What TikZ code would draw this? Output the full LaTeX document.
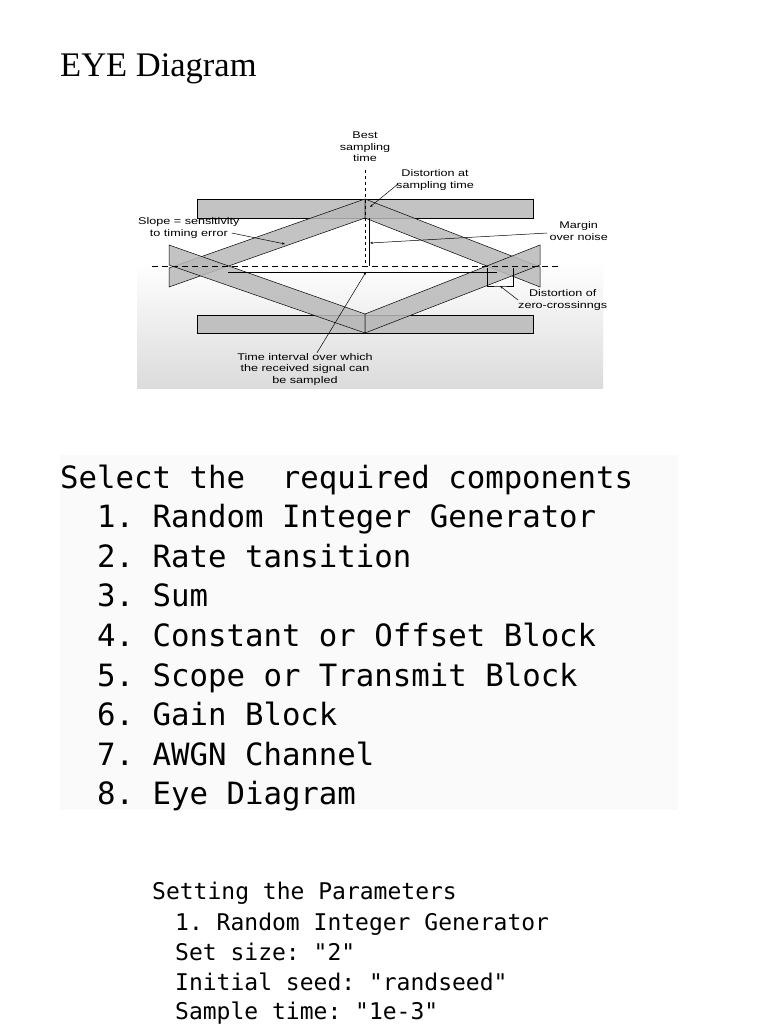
\documentclass[tikz,border=0pt]{standalone}
\usepackage{fontspec}
\usetikzlibrary{arrows.meta}
\setmainfont{Liberation Serif}
\newfontfamily\monof{DejaVu Sans Mono}
\newfontfamily\sansf[FakeStretch=1.3]{Liberation Sans}
\begin{document}
\frenchspacing
\begin{tikzpicture}[x=1pt,y=-1pt,
  band/.style={fill=gray!55,draw=black,line width=0.5pt,fill opacity=0.85},
  lbl/.style={font=\sansf\fontsize{9.7}{11.5}\selectfont,align=center,inner sep=0pt},
  ln/.style={anchor=base west,inner sep=0pt,font=\monof\fontsize{30.7}{31}\selectfont},
  sm/.style={anchor=base west,inner sep=0pt,font=\monof\fontsize{23}{23}\selectfont},
  pt/.style={line width=0.5pt,-{Stealth[length=3pt]}}]
\useasboundingbox (0,0) rectangle (768,1024);
\fill[white] (0,0) rectangle (768,1024);
\node[anchor=base west,inner sep=0pt,font=\fontsize{34.5}{35}\selectfont] (title) at (60,77) {EYE Diagram};
% eye background
\shade[top color=white,bottom color=gray!28] (137,262) rectangle (603,388);
% bands
\draw[band] (197,199) rectangle (533,218);
\draw[band] (197,315) rectangle (533,333);
\draw[band] (169,268) -- (365,199) -- (365,218) -- (169,287) -- cycle;
\draw[band] (365,199) -- (540,267) -- (540,287) -- (365,218) -- cycle;
\draw[band] (169,245) -- (365,314) -- (365,333) -- (169,265) -- cycle;
\draw[band] (365,314) -- (540,245) -- (540,265) -- (365,333) -- cycle;
% dashed lines
\coordinate (vtop) at (365,170);
\coordinate (vbot) at (365,266);
\draw[dashed,line width=0.6pt] (vtop) -- (vbot);
\coordinate (hl) at (152,266);
\coordinate (hr) at (560,266);
\draw[dash pattern=on 6pt off 4pt,line width=0.6pt] (hl) -- (hr);
% margin
\coordinate (m1) at (369,218);
\coordinate (m2) at (369,266);
\draw[line width=0.5pt] (m1) -- (m2);
\coordinate (t1) at (228,272);
\coordinate (t2) at (497,272);
\draw[line width=0.5pt] (t1) -- (t2);
% labels
\node[lbl] (best) at (365,147) {Best\\sampling\\time};
\node[lbl,anchor=west] (dist) at (396,180) {Distortion at\\sampling time};
\node[lbl,anchor=west] (slope) at (138,228) {Slope = sensitivity\\to timing error};
\node[lbl,anchor=east] (marg) at (608,231) {Margin\\over noise};
\node[lbl,anchor=west] (zero) at (518,300) {Distortion of\\zero-crossinngs};
\node[lbl] (tint) at (305,369) {Time interval over which\\the received signal can\\be sampled};
\coordinate (dp) at (370,207);
\draw[pt] (dist.west) ++(2,4) -- (dp);
\coordinate (sp) at (285,244);
\draw[pt] (slope.east) ++(-8,5) -- (sp);
\coordinate (mp) at (370,243);
\draw[pt] (marg.west) ++(-2,2) -- (mp);
\coordinate (tp) at (366,272);
\draw[pt] (tint.north) ++(12,0) -- (tp);
\coordinate (b1) at (487,268);
\coordinate (b2) at (513,268);
\coordinate (bm) at (500,286);
\draw[line width=0.5pt] (b1) |- (bm) -| (b2);
\draw[pt] (zero.west) -- (bm);
% list
\fill[gray!4] (60,455) rectangle (678,810);
\node[ln] (s0) at (60,488) {Select the\ \ required components};
\foreach \t [count=\i] in {Random Integer Generator,Rate tansition,Sum,Constant or Offset Block,Scope or Transmit Block,Gain Block,AWGN Channel,Eye Diagram}
  \node[ln] (l\i) at (97,{488+39.6*\i}) {\i. \t};
\node[sm] (p0) at (152,899) {Setting the Parameters};
\node[sm] (p1) at (175,930) {1. Random Integer Generator};
\node[sm] (p2) at (175,960) {Set size: "2"};
\node[sm] (p3) at (175,990) {Initial seed: "randseed"};
\node[sm] (p4) at (175,1019) {Sample time: "1e-3"};
\end{tikzpicture}
\end{document}
